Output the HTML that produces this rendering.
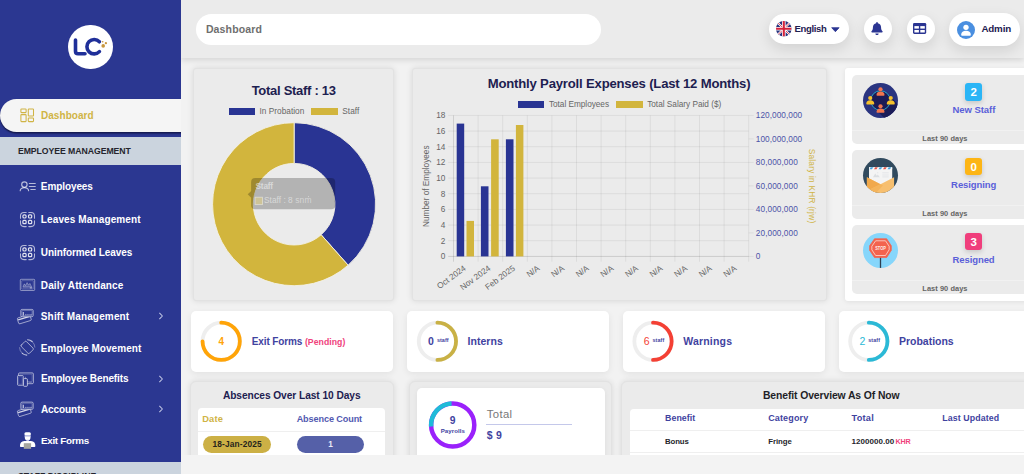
<!DOCTYPE html>
<html>
<head>
<meta charset="utf-8">
<title>Dashboard</title>
<style>
*{box-sizing:border-box;margin:0;padding:0}
html,body{width:1024px;height:474px;overflow:hidden;background:#f2f2f2;font-family:"Liberation Sans",sans-serif;}
.abs{position:absolute}
.tx{position:absolute;white-space:nowrap}
svg{position:absolute;overflow:visible}
#side{position:absolute;left:0;top:0;width:181px;height:474px;background:#2b3791}
.shead{position:absolute;left:0;width:181px;background:#cbd4de}
.pill{position:absolute;background:#fff;box-shadow:0 5px 14px rgba(0,0,0,.11)}
.card{position:absolute;background:#ebebeb;border:1px solid #e2e2e2;border-radius:3px;box-shadow:0 0 6px rgba(0,0,0,.11)}
.wcard{position:absolute;background:#fff;border-radius:5px;box-shadow:0 2px 7px rgba(0,0,0,.07)}
.gcard{position:absolute;background:#ebebeb;border-radius:5px}
</style>
</head>
<body>

<div class="abs" style="left:181px;top:0;width:843px;height:57.5px;background:#ebebeb;box-shadow:0 2px 6px rgba(0,0,0,.13)"></div>
<div class="abs" style="left:196px;top:14px;width:405px;height:31px;border-radius:15.5px;background:#fff"></div>
<div class="tx" style="left:205.88px;top:24.11px;font-size:10.5px;line-height:10.5px;color:#6e6e6e;font-weight:bold;letter-spacing:0.150px;">Dashboard</div>
<div class="pill" style="left:769px;top:14.2px;width:80px;height:30.2px;border-radius:15.1px"></div>
<svg style="left:776px;top:21.3px" width="15.6" height="15.6" viewBox="0 0 60 60">
  <defs><clipPath id="fc"><circle cx="30" cy="30" r="30"/></clipPath></defs>
  <g clip-path="url(#fc)"><rect width="60" height="60" fill="#27337d"/>
  <path d="M0 0 L60 60 M60 0 L0 60" stroke="#fff" stroke-width="8"/><path d="M0 0 L60 60 M60 0 L0 60" stroke="#d4213a" stroke-width="3"/>
  <path d="M30 0 V60 M0 30 H60" stroke="#fff" stroke-width="14"/><path d="M30 0 V60 M0 30 H60" stroke="#d4213a" stroke-width="8"/></g>
</svg>
<div class="tx" style="left:794.52px;top:24.16px;font-size:9.5px;line-height:9.5px;color:#1d2050;font-weight:bold;letter-spacing:-0.325px;">English</div>
<svg style="left:831.3px;top:27.3px" width="9.4" height="6" viewBox="0 0 9.4 6"><path d="M0.7 0.7 H8.100 L4.400 4.700 Z" fill="#2b3592" stroke="#2b3592" stroke-width="0.8" stroke-linejoin="round"/></svg>
<div class="pill" style="left:863.9px;top:15.4px;width:27.8px;height:27.8px;border-radius:50%"></div>
<svg style="left:870.6px;top:21.7px" width="12" height="13" viewBox="0 0 448 512"><path fill="#2b3592" d="M224 512c35.3 0 64-28.7 64-64H160c0 35.3 28.7 64 64 64zm215.400-149.700c-19.300-20.800-55.500-52-55.500-154.300 0-77.700-54.500-139.900-127.900-155.200V32c0-17.700-14.300-32-32-32s-32 14.300-32 32v20.800C118.600 68.100 64.100 130.300 64.100 208c0 102.300-36.200 133.500-55.500 154.300-6 6.400-8.700 14.100-8.600 21.700.1 16.400 13 32 32.100 32h383.800c19.100 0 32-15.600 32.100-32 .1-7.600-2.600-15.300-8.600-21.700z"/></svg>
<div class="pill" style="left:906.8px;top:15.4px;width:27.8px;height:27.8px;border-radius:50%"></div>
<svg style="left:913.3px;top:23.1px" width="13.2" height="10.9" viewBox="0 0 13.2 10.9"><rect x="0" y="0" width="13.2" height="10.9" rx="1.3" fill="#2b3592"/><rect x="1.4" y="3.1" width="4.5" height="2.5" fill="#fff"/><rect x="7.3" y="3.1" width="4.5" height="2.5" fill="#fff"/><rect x="1.4" y="7" width="4.5" height="2.5" fill="#fff"/><rect x="7.3" y="7" width="4.5" height="2.5" fill="#fff"/></svg>
<div class="pill" style="left:949px;top:12.9px;width:71.4px;height:33.5px;border-radius:16.75px"></div>
<svg style="left:957.2px;top:20.6px" width="18" height="18" viewBox="0 0 36 36"><circle cx="18" cy="18" r="18" fill="#4a8fe0"/><circle cx="18" cy="12.6" r="5.3" fill="#fff"/><path d="M8.300 27.500 C8.300 22 12.500 19.600 18 19.600 S27.700 22 27.700 27.500 C27.700 29 26.700 29.600 25.500 29.600 H10.500 C9.300 29.600 8.300 29 8.300 27.500Z" fill="#fff"/></svg>
<div class="tx" style="left:981.41px;top:24.00px;font-size:9.8px;line-height:9.8px;color:#1d2050;font-weight:bold;letter-spacing:-0.175px;">Admin</div>

<div class="card" style="left:192.6px;top:67.5px;width:201px;height:233px"></div>
<div class="tx" style="left:251.68px;top:84.30px;font-size:13px;line-height:13px;color:#1d2050;font-weight:bold;letter-spacing:-0.285px;">Total Staff : 13</div>
<div class="abs" style="left:228.7px;top:107.8px;width:26.7px;height:7.4px;background:#293493"></div>
<div class="tx" style="left:259.47px;top:108.32px;font-size:8.25px;line-height:8.25px;color:#666;font-weight:normal;letter-spacing:0.033px;">In Probation</div>
<div class="abs" style="left:311.3px;top:107.8px;width:26.7px;height:7.4px;background:#d2b53d"></div>
<div class="tx" style="left:342.27px;top:108.32px;font-size:8.25px;line-height:8.25px;color:#666;font-weight:normal;letter-spacing:0.058px;">Staff</div>
<svg style="left:0;top:0" width="1024" height="474" viewBox="0 0 1024 474">
<path d="M294.10 122.70 A81.5 81.5 0 0 1 348.14 265.20 L321.16 234.74 A40.8 40.8 0 0 0 294.10 163.40Z" fill="#293493" stroke="#f3f0e4" stroke-width="0.9" stroke-linejoin="round"/><path d="M348.14 265.20 A81.5 81.5 0 1 1 294.10 122.70 L294.10 163.40 A40.8 40.8 0 1 0 321.16 234.74Z" fill="#d2b53d" stroke="#f3f0e4" stroke-width="0.9" stroke-linejoin="round"/>
<g>
<path d="M247.7 194.3 L251.2 190.9 V197.7Z" fill="rgba(0,0,0,0.24)"/>
<rect x="251.1" y="178" width="84.1" height="31.2" rx="4" fill="rgba(0,0,0,0.24)"/>
<rect x="255.1" y="197.2" width="7.4" height="7.4" fill="rgba(226,208,130,0.55)" stroke="rgba(255,255,255,0.45)" stroke-width="0.9"/>
<circle cx="308.500" cy="196.600" r="0.550" fill="rgba(255,255,255,0.45)"/>
</g>
</svg>
<div class="tx" style="left:255.57px;top:183.12px;font-size:8.25px;line-height:8.25px;color:rgba(255,255,255,0.5);font-weight:bold;letter-spacing:-0.196px;">Staff</div>
<div class="tx" style="left:264.07px;top:197.32px;font-size:8.25px;line-height:8.25px;color:rgba(255,255,255,0.5);font-weight:normal;letter-spacing:0.045px;">Staff : 8</div>
<div class="tx" style="left:295.26px;top:196.40px;font-size:8.5px;line-height:8.5px;color:rgba(255,255,255,0.46);font-weight:normal;letter-spacing:0.109px;">snm</div>

<div class="card" style="left:411.5px;top:67.5px;width:415.5px;height:233px"></div>
<div class="tx" style="left:487.68px;top:77.31px;font-size:13.1px;line-height:13.1px;color:#1d2050;font-weight:bold;letter-spacing:-0.177px;">Monthly Payroll Expenses (Last 12 Months)</div>
<div class="abs" style="left:517.6px;top:100.8px;width:26.7px;height:7.2px;background:#293493"></div>
<div class="tx" style="left:548.97px;top:101.32px;font-size:8.25px;line-height:8.25px;color:#666;font-weight:normal;letter-spacing:-0.034px;">Total Employees</div>
<div class="abs" style="left:616px;top:100.8px;width:26.7px;height:7.2px;background:#d2b53d"></div>
<div class="tx" style="left:647.17px;top:101.32px;font-size:8.25px;line-height:8.25px;color:#666;font-weight:normal;letter-spacing:-0.007px;">Total Salary Paid ($)</div>
<svg style="left:0;top:0" width="1024" height="474" viewBox="0 0 1024 474" font-family="Liberation Sans, sans-serif">
<path d="M448.20 256.40 H748.70" stroke="rgba(0,0,0,0.2)" stroke-width="0.7"/><path d="M448.20 240.73 H748.70" stroke="rgba(0,0,0,0.095)" stroke-width="0.7"/><path d="M448.20 225.07 H748.70" stroke="rgba(0,0,0,0.095)" stroke-width="0.7"/><path d="M448.20 209.40 H748.70" stroke="rgba(0,0,0,0.095)" stroke-width="0.7"/><path d="M448.20 193.73 H748.70" stroke="rgba(0,0,0,0.095)" stroke-width="0.7"/><path d="M448.20 178.07 H748.70" stroke="rgba(0,0,0,0.095)" stroke-width="0.7"/><path d="M448.20 162.40 H748.70" stroke="rgba(0,0,0,0.095)" stroke-width="0.7"/><path d="M448.20 146.73 H748.70" stroke="rgba(0,0,0,0.095)" stroke-width="0.7"/><path d="M448.20 131.07 H748.70" stroke="rgba(0,0,0,0.095)" stroke-width="0.7"/><path d="M448.20 115.40 H748.70" stroke="rgba(0,0,0,0.095)" stroke-width="0.7"/><path d="M748.70 256.40 h5" stroke="rgba(0,0,0,0.095)" stroke-width="0.7"/><path d="M748.70 232.90 h5" stroke="rgba(0,0,0,0.095)" stroke-width="0.7"/><path d="M748.70 209.40 h5" stroke="rgba(0,0,0,0.095)" stroke-width="0.7"/><path d="M748.70 185.90 h5" stroke="rgba(0,0,0,0.095)" stroke-width="0.7"/><path d="M748.70 162.40 h5" stroke="rgba(0,0,0,0.095)" stroke-width="0.7"/><path d="M748.70 138.90 h5" stroke="rgba(0,0,0,0.095)" stroke-width="0.7"/><path d="M748.70 115.40 h5" stroke="rgba(0,0,0,0.095)" stroke-width="0.7"/><path d="M453.50 115.40 V261.70" stroke="rgba(0,0,0,0.17)" stroke-width="0.7"/><path d="M478.10 115.40 V261.70" stroke="rgba(0,0,0,0.095)" stroke-width="0.7"/><path d="M502.70 115.40 V261.70" stroke="rgba(0,0,0,0.095)" stroke-width="0.7"/><path d="M527.30 115.40 V261.70" stroke="rgba(0,0,0,0.095)" stroke-width="0.7"/><path d="M551.90 115.40 V261.70" stroke="rgba(0,0,0,0.095)" stroke-width="0.7"/><path d="M576.50 115.40 V261.70" stroke="rgba(0,0,0,0.095)" stroke-width="0.7"/><path d="M601.10 115.40 V261.70" stroke="rgba(0,0,0,0.095)" stroke-width="0.7"/><path d="M625.70 115.40 V261.70" stroke="rgba(0,0,0,0.095)" stroke-width="0.7"/><path d="M650.30 115.40 V261.70" stroke="rgba(0,0,0,0.095)" stroke-width="0.7"/><path d="M674.90 115.40 V261.70" stroke="rgba(0,0,0,0.095)" stroke-width="0.7"/><path d="M699.50 115.40 V261.70" stroke="rgba(0,0,0,0.095)" stroke-width="0.7"/><path d="M724.10 115.40 V261.70" stroke="rgba(0,0,0,0.095)" stroke-width="0.7"/><path d="M748.70 115.40 V261.70" stroke="rgba(0,0,0,0.095)" stroke-width="0.7"/><rect x="456.7" y="123.6" width="7.50" height="132.80" fill="#293493"/><rect x="466.5" y="220.9" width="7.50" height="35.50" fill="#d2b53d"/><rect x="480.9" y="186.3" width="7.60" height="70.10" fill="#293493"/><rect x="491.1" y="139.3" width="7.60" height="117.10" fill="#d2b53d"/><rect x="505.9" y="139.3" width="7.60" height="117.10" fill="#293493"/><rect x="515.9" y="125" width="7.50" height="131.40" fill="#d2b53d"/><text x="0" y="0" transform="translate(466.50 269.4) rotate(-36.5)" text-anchor="end" font-size="8.25" fill="#666">Oct 2024</text><text x="0" y="0" transform="translate(491.10 269.4) rotate(-36.5)" text-anchor="end" font-size="8.25" fill="#666">Nov 2024</text><text x="0" y="0" transform="translate(515.70 269.4) rotate(-36.5)" text-anchor="end" font-size="8.25" fill="#666">Feb 2025</text><text x="0" y="0" transform="translate(540.30 269.4) rotate(-36.5)" text-anchor="end" font-size="8.25" fill="#666">N/A</text><text x="0" y="0" transform="translate(564.90 269.4) rotate(-36.5)" text-anchor="end" font-size="8.25" fill="#666">N/A</text><text x="0" y="0" transform="translate(589.50 269.4) rotate(-36.5)" text-anchor="end" font-size="8.25" fill="#666">N/A</text><text x="0" y="0" transform="translate(614.10 269.4) rotate(-36.5)" text-anchor="end" font-size="8.25" fill="#666">N/A</text><text x="0" y="0" transform="translate(638.70 269.4) rotate(-36.5)" text-anchor="end" font-size="8.25" fill="#666">N/A</text><text x="0" y="0" transform="translate(663.30 269.4) rotate(-36.5)" text-anchor="end" font-size="8.25" fill="#666">N/A</text><text x="0" y="0" transform="translate(687.90 269.4) rotate(-36.5)" text-anchor="end" font-size="8.25" fill="#666">N/A</text><text x="0" y="0" transform="translate(712.50 269.4) rotate(-36.5)" text-anchor="end" font-size="8.25" fill="#666">N/A</text><text x="0" y="0" transform="translate(737.10 269.4) rotate(-36.5)" text-anchor="end" font-size="8.25" fill="#666">N/A</text>
<text transform="translate(428.6 186.2) rotate(-90)" text-anchor="middle" font-size="8.25" fill="#666" textLength="81.5">Number of Employees</text>
<text transform="translate(808.6 185.9) rotate(90)" text-anchor="middle" font-size="8.25" fill="#d0b445" textLength="74.5">Salary in KHR (rjw)</text>
</svg>
<div class="tx" style="left:145.40px;width:300px;text-align:right;top:253.32px;font-size:8.25px;line-height:8.25px;color:#666;font-weight:normal;letter-spacing:0.000px;">0</div><div class="tx" style="left:145.40px;width:300px;text-align:right;top:237.65px;font-size:8.25px;line-height:8.25px;color:#666;font-weight:normal;letter-spacing:0.000px;">2</div><div class="tx" style="left:145.40px;width:300px;text-align:right;top:221.98px;font-size:8.25px;line-height:8.25px;color:#666;font-weight:normal;letter-spacing:0.000px;">4</div><div class="tx" style="left:145.40px;width:300px;text-align:right;top:206.32px;font-size:8.25px;line-height:8.25px;color:#666;font-weight:normal;letter-spacing:0.000px;">6</div><div class="tx" style="left:145.40px;width:300px;text-align:right;top:190.65px;font-size:8.25px;line-height:8.25px;color:#666;font-weight:normal;letter-spacing:0.000px;">8</div><div class="tx" style="left:145.40px;width:300px;text-align:right;top:174.98px;font-size:8.25px;line-height:8.25px;color:#666;font-weight:normal;letter-spacing:0.000px;">10</div><div class="tx" style="left:145.40px;width:300px;text-align:right;top:159.32px;font-size:8.25px;line-height:8.25px;color:#666;font-weight:normal;letter-spacing:0.000px;">12</div><div class="tx" style="left:145.40px;width:300px;text-align:right;top:143.65px;font-size:8.25px;line-height:8.25px;color:#666;font-weight:normal;letter-spacing:0.000px;">14</div><div class="tx" style="left:145.40px;width:300px;text-align:right;top:127.98px;font-size:8.25px;line-height:8.25px;color:#666;font-weight:normal;letter-spacing:0.000px;">16</div><div class="tx" style="left:145.40px;width:300px;text-align:right;top:112.32px;font-size:8.25px;line-height:8.25px;color:#666;font-weight:normal;letter-spacing:0.000px;">18</div><div class="tx" style="left:755.87px;top:253.32px;font-size:8.25px;line-height:8.25px;color:#4c53a8;font-weight:normal;letter-spacing:0.366px;">0</div><div class="tx" style="left:755.87px;top:229.82px;font-size:8.25px;line-height:8.25px;color:#4c53a8;font-weight:normal;letter-spacing:0.063px;">20,000,000</div><div class="tx" style="left:755.87px;top:206.32px;font-size:8.25px;line-height:8.25px;color:#4c53a8;font-weight:normal;letter-spacing:0.063px;">40,000,000</div><div class="tx" style="left:755.87px;top:182.82px;font-size:8.25px;line-height:8.25px;color:#4c53a8;font-weight:normal;letter-spacing:0.063px;">60,000,000</div><div class="tx" style="left:755.87px;top:159.32px;font-size:8.25px;line-height:8.25px;color:#4c53a8;font-weight:normal;letter-spacing:0.063px;">80,000,000</div><div class="tx" style="left:755.87px;top:135.82px;font-size:8.25px;line-height:8.25px;color:#4c53a8;font-weight:normal;letter-spacing:0.037px;">100,000,000</div><div class="tx" style="left:755.87px;top:112.32px;font-size:8.25px;line-height:8.25px;color:#4c53a8;font-weight:normal;letter-spacing:0.037px;">120,000,000</div>

<div class="abs" style="left:845px;top:68px;width:200px;height:232.7px;background:#fff;border-radius:3px;box-shadow:0 1px 5px rgba(0,0,0,.08)"></div>

<div class="gcard" style="left:852px;top:74.9px;width:185px;height:69.6px"></div>
<div class="abs" style="left:852px;top:130.2px;width:185px;height:1px;background:#f1f1f1"></div>
<svg style="left:863.0px;top:83.0px" width="35" height="35" viewBox="0 0 70 70"><circle cx="35" cy="35" r="35" fill="#2a3480"/>
<clipPath id="tc"><circle cx="35" cy="35" r="35"/></clipPath><path d="M48.800 21.200 L95 67.400 L67.400 95 L21.200 48.800Z" fill="#1b1c58" clip-path="url(#tc)"/>
<circle cx="35" cy="35" r="19.500" fill="#1b1b55" stroke="#27b3d6" stroke-width="1.800"/>
<g fill="#f0764f"><circle cx="35" cy="12.500" r="4.200"/><path d="M27 24 q0 -7 8 -7 q8 0 8 7 q0 1.500 -1.500 1.500 h-13 q-1.500 0 -1.500 -1.500z"/>
<circle cx="35" cy="46.500" r="4.200"/><path d="M27 58 q0 -7 8 -7 q8 0 8 7 q0 1.500 -1.500 1.500 h-13 q-1.500 0 -1.500 -1.500z"/></g>
<g fill="#f6c12c"><circle cx="14.500" cy="30" r="4.200"/><path d="M6.500 41.500 q0 -7 8 -7 q8 0 8 7 q0 1.500 -1.500 1.500 h-13 q-1.500 0 -1.500 -1.500z"/>
<circle cx="55.500" cy="30" r="4.200"/><path d="M47.500 41.500 q0 -7 8 -7 q8 0 8 7 q0 1.500 -1.500 1.500 h-13 q-1.500 0 -1.500 -1.500z"/></g></svg>
<div class="abs" style="left:965px;top:83.30000000000001px;width:17.3px;height:17.3px;border-radius:3px;background:#2ab5f6;box-shadow:0 2px 5px rgba(0,0,0,.16)"></div>
<div class="tx" style="left:823.70px;width:300px;text-align:center;top:87.47px;font-size:11.5px;line-height:11.5px;color:#fff;font-weight:bold;letter-spacing:0.000px;">2</div>
<div class="tx" style="left:952.52px;top:105.06px;font-size:9.5px;line-height:9.5px;color:#5a5fd9;font-weight:bold;letter-spacing:-0.055px;">New Staff</div>
<div class="tx" style="left:922.30px;top:134.64px;font-size:7.4px;line-height:7.4px;color:#646464;font-weight:bold;letter-spacing:0.074px;">Last 90 days</div>


<div class="gcard" style="left:852px;top:149.7px;width:185px;height:69.6px"></div>
<div class="abs" style="left:852px;top:205.0px;width:185px;height:1px;background:#f1f1f1"></div>
<svg style="left:863.0px;top:157.79999999999998px" width="35" height="35" viewBox="0 0 70 70"><clipPath id="mc"><circle cx="35" cy="35" r="35"/></clipPath><circle cx="35" cy="35" r="35" fill="#314a5e"/>
<g clip-path="url(#mc)">
<rect x="12" y="18.600" width="46.400" height="40" fill="#f4f4f4"/>
<path d="M12 18.600 h46.400 v4 h-46.400z" fill="#fbfbfb"/>
<path d="M13 22.600 l2.500 -4 h5 l-2.500 4z M31 22.600 l2.500 -4 h5 l-2.500 4z M49 22.600 l2.500 -4 h5 l-2.500 4z" fill="#46a6e0"/>
<path d="M22 22.600 l2.500 -4 h5 l-2.500 4z M40 22.600 l2.500 -4 h5 l-2.500 4z" fill="#e4584c"/>
<path d="M20 38.500 l4.500 -7.500 l3 4.500 l2 -2.500 l4 5.500z" fill="#dcdfe2"/><circle cx="29.500" cy="29.500" r="1.100" fill="#dcdfe2"/>
<path d="M38.500 29.700 h13 M38.500 34 h13 M38.500 37.800 h13" stroke="#dfe2e5" stroke-width="1.500"/>
<path d="M7.800 38.600 L35 52.300 L62.200 38.600 V80 H7.800Z" fill="#f7bf6f"/>
<path d="M7.800 38.600 L35 52.300 L7.800 66Z" fill="#f1a94c"/>
<path d="M7.800 66 L35 52.300 L40 55 L16 80 H7.800Z" fill="#f4b45b"/>
</g></svg>
<div class="abs" style="left:965px;top:158.1px;width:17.3px;height:17.3px;border-radius:3px;background:#fdb515;box-shadow:0 2px 5px rgba(0,0,0,.16)"></div>
<div class="tx" style="left:823.70px;width:300px;text-align:center;top:162.27px;font-size:11.5px;line-height:11.5px;color:#fff;font-weight:bold;letter-spacing:0.000px;">0</div>
<div class="tx" style="left:951.12px;top:179.86px;font-size:9.5px;line-height:9.5px;color:#5a5fd9;font-weight:bold;letter-spacing:-0.083px;">Resigning</div>
<div class="tx" style="left:922.30px;top:210.44px;font-size:7.4px;line-height:7.4px;color:#646464;font-weight:bold;letter-spacing:0.074px;">Last 90 days</div>


<div class="gcard" style="left:852px;top:224.6px;width:185px;height:69.6px"></div>
<div class="abs" style="left:852px;top:279.9px;width:185px;height:1px;background:#f1f1f1"></div>
<svg style="left:863.0px;top:232.7px" width="35" height="35" viewBox="0 0 70 70"><circle cx="35" cy="35" r="35" fill="#86d6fb"/>
<rect x="33.700" y="48" width="2.600" height="21.800" fill="#2c3e50"/>
<path d="M23 11.500 H47.300 L56.600 25.500 V34.700 L47.300 49.100 H23 L13.300 34.700 V25.500Z" fill="#f3634e" stroke="#f3634e" stroke-width="1.500" stroke-linejoin="round"/>
<path d="M25.300 15.600 H45 L52.300 26.600 V33.600 L45 45 H25.300 L17.700 33.600 V26.600Z" fill="none" stroke="#fde3dc" stroke-width="1.500" stroke-linejoin="round"/>
<text x="35.200" y="33.800" text-anchor="middle" font-family="Liberation Sans, sans-serif" font-weight="bold" font-size="9.600" fill="#fdeee9" textLength="21.500" lengthAdjust="spacingAndGlyphs">STOP</text></svg>
<div class="abs" style="left:965px;top:233.0px;width:17.3px;height:17.3px;border-radius:3px;background:#f03e7c;box-shadow:0 2px 5px rgba(0,0,0,.16)"></div>
<div class="tx" style="left:823.70px;width:300px;text-align:center;top:237.17px;font-size:11.5px;line-height:11.5px;color:#fff;font-weight:bold;letter-spacing:0.000px;">3</div>
<div class="tx" style="left:952.52px;top:254.76px;font-size:9.5px;line-height:9.5px;color:#5a5fd9;font-weight:bold;letter-spacing:-0.087px;">Resigned</div>
<div class="tx" style="left:922.30px;top:285.34px;font-size:7.4px;line-height:7.4px;color:#646464;font-weight:bold;letter-spacing:0.074px;">Last 90 days</div>


<div class="wcard" style="left:191px;top:311.2px;width:202.3px;height:60.8px"></div>
<svg style="left:0;top:0" width="1024" height="474" viewBox="0 0 1024 474"><circle cx="221.2" cy="341.3" r="18.65" fill="none" stroke="#eeeeee" stroke-width="3.8"/><path d="M221.20 322.65 A18.65 18.65 0 1 1 202.55 341.30" fill="none" stroke="#ffa408" stroke-width="3.8" stroke-linecap="round"/></svg><div class="tx" style="left:71.20px;width:300px;text-align:center;top:336.54px;font-size:10px;line-height:10px;color:#ffa408;font-weight:bold;letter-spacing:0.000px;">4</div>
<div class="tx" style="left:251.80px;top:336.64px;font-size:10px;line-height:10px;color:#3f439f;font-weight:bold;letter-spacing:-0.121px;">Exit Forms</div>
<div class="tx" style="left:304.95px;top:337.74px;font-size:8.7px;line-height:8.7px;color:#f0437c;font-weight:bold;letter-spacing:0.042px;">(Pending)</div>
<div class="wcard" style="left:407.2px;top:311.2px;width:201.7px;height:60.8px"></div>
<svg style="left:0;top:0" width="1024" height="474" viewBox="0 0 1024 474"><circle cx="437.4" cy="341.3" r="18.65" fill="none" stroke="#eeeeee" stroke-width="3.8"/><path d="M437.40 322.65 A18.65 18.65 0 0 1 437.40 359.95" fill="none" stroke="#c9b145" stroke-width="3.8" stroke-linecap="round"/></svg><div class="tx" style="left:428.08px;top:336.21px;font-size:10.5px;line-height:10.5px;color:#3f439f;font-weight:bold;letter-spacing:1.296px;">0</div><div class="tx" style="left:436.88px;top:337.63px;font-size:5.4px;line-height:5.4px;color:#3f439f;font-weight:bold;letter-spacing:0.085px;">staff</div>
<div class="tx" style="left:467.48px;top:336.21px;font-size:10.5px;line-height:10.5px;color:#3f439f;font-weight:bold;letter-spacing:0.054px;">Interns</div>
<div class="wcard" style="left:622.9px;top:311.2px;width:202px;height:60.8px"></div>
<svg style="left:0;top:0" width="1024" height="474" viewBox="0 0 1024 474"><circle cx="653" cy="341.3" r="18.65" fill="none" stroke="#eeeeee" stroke-width="3.8"/><path d="M653.00 322.65 A18.65 18.65 0 0 1 653.00 359.95" fill="none" stroke="#f44034" stroke-width="3.8" stroke-linecap="round"/></svg><div class="tx" style="left:643.68px;top:336.21px;font-size:10.5px;line-height:10.5px;color:#f44034;font-weight:normal;letter-spacing:1.296px;">6</div><div class="tx" style="left:652.48px;top:337.63px;font-size:5.4px;line-height:5.4px;color:#3f439f;font-weight:bold;letter-spacing:0.085px;">staff</div>
<div class="tx" style="left:683.18px;top:336.21px;font-size:10.5px;line-height:10.5px;color:#3f439f;font-weight:bold;letter-spacing:0.198px;">Warnings</div>
<div class="wcard" style="left:838.8px;top:311.2px;width:202px;height:60.8px"></div>
<svg style="left:0;top:0" width="1024" height="474" viewBox="0 0 1024 474"><circle cx="868.8" cy="341.3" r="18.65" fill="none" stroke="#eeeeee" stroke-width="3.8"/><path d="M868.80 322.65 A18.65 18.65 0 0 1 868.80 359.95" fill="none" stroke="#2bb9d6" stroke-width="3.8" stroke-linecap="round"/></svg><div class="tx" style="left:859.48px;top:336.21px;font-size:10.5px;line-height:10.5px;color:#2bb9d6;font-weight:normal;letter-spacing:1.296px;">2</div><div class="tx" style="left:868.28px;top:337.63px;font-size:5.4px;line-height:5.4px;color:#3f439f;font-weight:bold;letter-spacing:0.085px;">staff</div>
<div class="tx" style="left:898.88px;top:336.21px;font-size:10.5px;line-height:10.5px;color:#3f439f;font-weight:bold;letter-spacing:-0.000px;">Probations</div>

<div class="card" style="left:189.9px;top:381px;width:204px;height:100px;border-radius:6px"></div>
<div class="tx" style="left:222.89px;top:390.77px;font-size:10.2px;line-height:10.2px;color:#1d2050;font-weight:bold;letter-spacing:-0.064px;">Absences Over Last 10 Days</div>
<div class="abs" style="left:198px;top:408.4px;width:187.4px;height:70px;background:#fff;border-radius:4px"></div>
<div class="tx" style="left:202.23px;top:414.53px;font-size:9.3px;line-height:9.3px;color:#d0b445;font-weight:bold;letter-spacing:0.163px;">Date</div>
<div class="tx" style="left:296.64px;top:414.70px;font-size:9.1px;line-height:9.1px;color:#5158b0;font-weight:bold;letter-spacing:-0.098px;">Absence Count</div>
<div class="abs" style="left:198px;top:430.6px;width:187.4px;height:1px;background:#efefef"></div>
<div class="abs" style="left:203px;top:436.2px;width:68px;height:16.7px;border-radius:8.4px;background:#ccb045"></div>
<div class="tx" style="left:212.47px;top:440.27px;font-size:8.3px;line-height:8.3px;color:#25231c;font-weight:bold;letter-spacing:0.165px;">18-Jan-2025</div>
<div class="abs" style="left:296.9px;top:436.2px;width:67.6px;height:16.7px;border-radius:8.4px;background:#5560a8"></div>
<div class="tx" style="left:180.60px;width:300px;text-align:center;top:440.27px;font-size:8.3px;line-height:8.3px;color:#e9ebf7;font-weight:bold;letter-spacing:0.000px;">1</div>

<div class="card" style="left:409.4px;top:381px;width:203px;height:100px;border-radius:6px"></div>
<div class="abs" style="left:416.8px;top:387.7px;width:188.7px;height:90px;background:#fff;border-radius:5px;box-shadow:0 1px 5px rgba(0,0,0,.06)"></div>
<svg style="left:0;top:0" width="1024" height="474" viewBox="0 0 1024 474">
<circle cx="452.7" cy="425" r="21.6" fill="none" stroke="#9a21fb" stroke-width="4.5"/>
<path d="M431.15 426.51 A21.6 21.6 0 0 1 451.57 403.43" fill="none" stroke="#1fbbd8" stroke-width="4.5"/>
</svg>
<div class="tx" style="left:302.70px;width:300px;text-align:center;top:416.28px;font-size:10.3px;line-height:10.3px;color:#3f439f;font-weight:bold;letter-spacing:0.000px;">9</div>
<div class="tx" style="left:440.76px;top:428.24px;font-size:6.1px;line-height:6.1px;color:#3f439f;font-weight:bold;letter-spacing:0.053px;">Payrolls</div>
<div class="tx" style="left:486.75px;top:409.43px;font-size:11.3px;line-height:11.3px;color:#777;font-weight:normal;letter-spacing:0.357px;">Total</div>
<div class="abs" style="left:486.3px;top:424.1px;width:85.5px;height:1px;background:#c4c8ea"></div>
<div class="tx" style="left:486.78px;top:430.31px;font-size:10.5px;line-height:10.5px;color:#3f439f;font-weight:bold;letter-spacing:0.265px;">$ 9</div>

<div class="card" style="left:621.4px;top:381px;width:420px;height:100px;border-radius:6px"></div>
<div class="tx" style="left:762.88px;top:390.50px;font-size:10.4px;line-height:10.4px;color:#1f1f28;font-weight:bold;letter-spacing:-0.101px;">Benefit Overview As Of Now</div>
<div class="abs" style="left:630.2px;top:408.6px;width:420px;height:70px;background:#fff;border-radius:4px"></div>
<div class="tx" style="left:665.05px;top:413.95px;font-size:8.8px;line-height:8.8px;color:#3f439f;font-weight:bold;letter-spacing:0.063px;">Benefit</div>
<div class="tx" style="left:768.14px;top:413.78px;font-size:9px;line-height:9px;color:#3f439f;font-weight:bold;letter-spacing:0.158px;">Category</div>
<div class="tx" style="left:851.53px;top:413.61px;font-size:9.2px;line-height:9.2px;color:#3f439f;font-weight:bold;letter-spacing:0.243px;">Total</div>
<div class="tx" style="left:942.25px;top:413.95px;font-size:8.8px;line-height:8.8px;color:#3f439f;font-weight:bold;letter-spacing:0.106px;">Last Updated</div>
<div class="abs" style="left:630.2px;top:430.3px;width:420px;height:1px;background:#efefef"></div>
<div class="tx" style="left:665.09px;top:438.40px;font-size:7.8px;line-height:7.8px;color:#25252b;font-weight:bold;letter-spacing:-0.135px;">Bonus</div>
<div class="tx" style="left:768.19px;top:438.40px;font-size:7.8px;line-height:7.8px;color:#25252b;font-weight:bold;letter-spacing:-0.041px;">Fringe</div>
<div class="tx" style="left:851.58px;top:438.23px;font-size:8px;line-height:8px;color:#25252b;font-weight:bold;letter-spacing:0.030px;">1200000.00</div>
<div class="tx" style="left:895.61px;top:437.61px;font-size:7.2px;line-height:7.2px;color:#f0437c;font-weight:bold;letter-spacing:-0.201px;">KHR</div>
<div class="abs" style="left:630.2px;top:452px;width:420px;height:1px;background:#efefef"></div>
<div class="abs" style="left:181px;top:454.7px;width:843px;height:20px;background:#f3f3f3"></div>

<div id="side"></div>
<div class="abs" style="left:68.4px;top:24.5px;width:44.5px;height:44.5px;border-radius:50%;background:#fff"></div>
<svg style="left:68px;top:24px" width="46" height="46" viewBox="68 24 46 46">
  <path d="M75.5 40 V51.200 Q75.500 53.700 78 53.700 H85" fill="none" stroke="#1f2f99" stroke-width="3.6" stroke-linecap="round" stroke-linejoin="round"/>
  <path d="M99.4 41.8 A7.2 7.2 0 1 0 99.4 51.6" fill="none" stroke="#1f2f99" stroke-width="3.6" stroke-linecap="round"/>
  <circle cx="103.2" cy="45.9" r="1.8" fill="#c8963e"/><circle cx="102.7" cy="41.7" r="0.8" fill="#c8963e"/><circle cx="105.9" cy="43.2" r="1.15" fill="#c8963e"/>
</svg>
<div class="abs" style="left:0;top:90px;width:181px;height:50px;overflow:hidden"><div class="abs" style="left:0;top:9px;width:190px;height:33px;border-radius:16.5px 0 0 16.5px;background:#f5f5f5;box-shadow:0 1.5px 1.5px rgba(5,5,30,.6)"></div></div>
<svg style="left:20px;top:108px" width="15" height="15" viewBox="20 108 15 15" fill="none" stroke="#d0b445" stroke-width="1.05">
  <rect x="20.9" y="109" width="5.2" height="3.6" rx="0.6"/><rect x="20.9" y="114.6" width="5.2" height="7" rx="0.6"/>
  <rect x="28.3" y="109" width="5.2" height="7" rx="0.6"/><rect x="28.3" y="118" width="5.2" height="3.6" rx="0.6"/>
</svg>
<div class="tx" style="left:40.90px;top:111.23px;font-size:10px;line-height:10px;color:#d0b445;font-weight:bold;letter-spacing:0.071px;">Dashboard</div>
<div class="shead" style="top:136.7px;height:28px"></div>
<div class="tx" style="left:17.95px;top:147.14px;font-size:8.7px;line-height:8.7px;color:#25252d;font-weight:bold;letter-spacing:-0.057px;">EMPLOYEE MANAGEMENT</div>
<div class="tx" style="left:40.80px;top:181.53px;font-size:10px;line-height:10px;color:#fff;font-weight:bold;letter-spacing:-0.089px;">Employees</div>
<div class="tx" style="left:40.80px;top:215.34px;font-size:10px;line-height:10px;color:#fff;font-weight:bold;letter-spacing:0.123px;">Leaves Management</div>
<div class="tx" style="left:40.80px;top:247.84px;font-size:10px;line-height:10px;color:#fff;font-weight:bold;letter-spacing:-0.088px;">Uninformed Leaves</div>
<div class="tx" style="left:40.80px;top:281.14px;font-size:10px;line-height:10px;color:#fff;font-weight:bold;letter-spacing:0.116px;">Daily Attendance</div>
<div class="tx" style="left:40.80px;top:312.14px;font-size:10px;line-height:10px;color:#fff;font-weight:bold;letter-spacing:0.152px;">Shift Management</div>
<div class="tx" style="left:40.80px;top:344.04px;font-size:10px;line-height:10px;color:#fff;font-weight:bold;letter-spacing:0.063px;">Employee Movement</div>
<div class="tx" style="left:40.90px;top:373.94px;font-size:10px;line-height:10px;color:#fff;font-weight:bold;letter-spacing:-0.118px;">Employee Benefits</div>
<div class="tx" style="left:40.90px;top:404.84px;font-size:10px;line-height:10px;color:#fff;font-weight:bold;letter-spacing:-0.066px;">Accounts</div>
<div class="tx" style="left:40.91px;top:435.66px;font-size:9.85px;line-height:9.85px;color:#fff;font-weight:bold;letter-spacing:-0.276px;">Exit Forms</div>
<svg style="left:158px;top:312.2px" width="6" height="8" viewBox="0 0 6 8"><path d="M1.6 1.2 L4.4 4 L1.6 6.8" fill="none" stroke="#c3c8e6" stroke-width="1.05" stroke-linecap="round" stroke-linejoin="round"/></svg><svg style="left:158px;top:374.9px" width="6" height="8" viewBox="0 0 6 8"><path d="M1.6 1.2 L4.4 4 L1.6 6.8" fill="none" stroke="#c3c8e6" stroke-width="1.05" stroke-linecap="round" stroke-linejoin="round"/></svg><svg style="left:158px;top:405.2px" width="6" height="8" viewBox="0 0 6 8"><path d="M1.6 1.2 L4.4 4 L1.6 6.8" fill="none" stroke="#c3c8e6" stroke-width="1.05" stroke-linecap="round" stroke-linejoin="round"/></svg>
<div class="shead" style="top:462.2px;height:13px"></div>
<div class="tx" style="left:17.95px;top:471.94px;font-size:8.7px;line-height:8.7px;color:#25252d;font-weight:bold;letter-spacing:-0.008px;">STAFF DISCIPLINE</div>

<svg style="left:0;top:0" width="181" height="474" viewBox="0 0 181 474" fill="none" stroke="rgba(255,255,255,0.8)" stroke-width="0.95" stroke-linecap="round">
<g stroke="rgba(255,255,255,0.68)" stroke-width="1.15"><circle cx="24.400" cy="184.600" r="2.700"/><path d="M20.200 190.700 A4.200 3.100 0 0 1 28.600 190.700"/></g>
<path d="M29.300 183.500 H35.300 M29.300 186.400 H35.300 M30.800 189.400 H35.300" stroke="rgba(255,255,255,0.66)" stroke-width="1.05"/>
</svg>
<svg style="left:0;top:0" width="181" height="474" viewBox="0 0 181 474" fill="none" stroke="rgba(255,255,255,0.66)" stroke-width="1.05" stroke-linecap="round">
<path d="M20.5 218.3 V215.9 Q20.5 212.4 24 212.4 H26.200 M28.800 212.4 H31 Q34.500 212.4 34.500 215.9 V218.3 M34.500 220.7 V223.1 Q34.500 226.6 31 226.6 H28.800 M26.200 226.6 H24 Q20.500 226.6 20.500 223.1 V220.7"/>
<g stroke="rgba(255,255,255,0.86)" stroke-width="1.2"><rect x="22.9" y="214.8" width="3.2" height="3.2" rx="1.3"/><rect x="28.500" y="214.8" width="3.200" height="3.200" rx="0.9"/>
<rect x="22.900" y="220.4" width="3.200" height="3.200" rx="0.9"/><rect x="28.500" y="220.4" width="3.200" height="3.200" rx="0.9"/></g></svg><svg style="left:0;top:0" width="181" height="474" viewBox="0 0 181 474" fill="none" stroke="rgba(255,255,255,0.66)" stroke-width="1.05" stroke-linecap="round">
<path d="M20.5 251.3 V248.9 Q20.5 245.4 24 245.4 H26.200 M28.800 245.4 H31 Q34.500 245.4 34.500 248.9 V251.3 M34.500 253.7 V256.1 Q34.500 259.6 31 259.6 H28.800 M26.200 259.6 H24 Q20.500 259.6 20.500 256.1 V253.7"/>
<g stroke="rgba(255,255,255,0.86)" stroke-width="1.2"><rect x="22.9" y="247.8" width="3.2" height="3.2" rx="1.3"/><rect x="28.500" y="247.8" width="3.200" height="3.200" rx="0.9"/>
<rect x="22.900" y="253.4" width="3.200" height="3.200" rx="0.9"/><rect x="28.500" y="253.4" width="3.200" height="3.200" rx="0.9"/></g></svg>
<svg style="left:0;top:0" width="181" height="474" viewBox="0 0 181 474" fill="none" stroke="rgba(255,255,255,0.55)" stroke-width="0.9" stroke-linejoin="round">
<rect x="20.300" y="279.300" width="14.400" height="11.200" rx="0.900" stroke="rgba(255,255,255,0.5)"/><rect x="21.700" y="280.700" width="11.600" height="8.400" rx="0.400" stroke="rgba(255,255,255,0.3)" stroke-width="0.7"/>
<path d="M23 286.800 L24.300 283.800 L25.500 285.600 L27.100 282.600 L28.600 285.200 L29.900 283.400 L31.600 286.800Z" stroke="rgba(255,255,255,0.45)" stroke-width="0.7" fill="rgba(255,255,255,0.18)"/>
<path d="M22.800 287.900 h6" stroke="rgba(255,255,255,0.35)" stroke-width="0.7"/><path d="M29.600 287.900 h2.600" stroke="rgba(255,255,255,0.75)" stroke-width="1"/>
</svg>
<svg style="left:0;top:0" width="181" height="474" viewBox="0 0 181 474" fill="none" stroke="rgba(255,255,255,0.6)" stroke-width="0.9" stroke-linejoin="round">
<g transform="rotate(-17 24.3 319.2)"><rect x="17.700" y="316.1" width="13.200" height="6.200" rx="1.100" stroke="rgba(255,255,255,0.55)"/><path d="M18.200 318.1 H30.400" stroke="rgba(255,255,255,0.8)" stroke-width="1.300"/></g>
<rect x="20.800" y="309.4" width="12.400" height="7.300" rx="1.300" fill="#2b3791"/>
<rect x="21.900" y="310.5" width="10.200" height="5.100" rx="0.600" stroke="rgba(255,255,255,0.38)" stroke-width="0.7"/>
<path d="M23.300 312.0 v3.400" stroke="rgba(255,255,255,0.75)" stroke-width="1.100"/>
<path d="M25.200 314.7 h1.300 M27.300 314.7 h1.300 M29.400 314.7 h1.300 M31 314.7 h0.700" stroke="rgba(255,255,255,0.6)" stroke-width="0.9"/></svg><svg style="left:0;top:0" width="181" height="474" viewBox="0 0 181 474" fill="none" stroke="rgba(255,255,255,0.6)" stroke-width="0.9" stroke-linejoin="round">
<g transform="rotate(-17 24.3 411.9)"><rect x="17.700" y="408.8" width="13.200" height="6.200" rx="1.100" stroke="rgba(255,255,255,0.55)"/><path d="M18.200 410.8 H30.400" stroke="rgba(255,255,255,0.8)" stroke-width="1.300"/></g>
<rect x="20.800" y="402.1" width="12.400" height="7.300" rx="1.300" fill="#2b3791"/>
<rect x="21.900" y="403.2" width="10.200" height="5.100" rx="0.600" stroke="rgba(255,255,255,0.38)" stroke-width="0.7"/>
<path d="M23.300 404.7 v3.400" stroke="rgba(255,255,255,0.75)" stroke-width="1.100"/>
<path d="M25.200 407.4 h1.300 M27.300 407.4 h1.300 M29.400 407.4 h1.300 M31 407.4 h0.700" stroke="rgba(255,255,255,0.6)" stroke-width="0.9"/></svg>
<svg style="left:0;top:0" width="181" height="474" viewBox="0 0 181 474" fill="none" stroke="rgba(255,255,255,0.7)" stroke-width="0.9" stroke-linecap="round">
<rect x="23.600" y="341.600" width="7.200" height="11.600" rx="1.200" transform="rotate(-45 27.200 347.400)" stroke="rgba(255,255,255,0.6)"/>
<path d="M27.60 339.71 A7.7 7.7 0 0 1 32.15 341.50" stroke="rgba(255,255,255,0.7)" stroke-width="1.100"/><path d="M32.15 341.50 A7.7 7.7 0 0 1 34.90 347.13" stroke="rgba(255,255,255,0.4)"/>
<path d="M26.80 355.09 A7.7 7.7 0 0 1 22.25 353.30" stroke="rgba(255,255,255,0.7)" stroke-width="1.100"/><path d="M22.25 353.30 A7.7 7.7 0 0 1 19.50 347.67" stroke="rgba(255,255,255,0.4)"/>
</svg>
<svg style="left:0;top:0" width="181" height="474" viewBox="0 0 181 474" fill="none" stroke="rgba(255,255,255,0.72)" stroke-width="0.9" stroke-linejoin="round">
<rect x="18.500" y="372.900" width="14.900" height="10.800" rx="1.200" stroke="rgba(255,255,255,0.62)"/><rect x="19.800" y="374.200" width="12.300" height="7.300" rx="0.400" stroke="rgba(255,255,255,0.3)" stroke-width="0.7"/><path d="M28.500 382.600 h3.300" stroke="rgba(255,255,255,0.45)" stroke-width="0.7"/>
<rect x="17.500" y="375.500" width="5.800" height="9.800" rx="0.900" fill="#2b3791" stroke="rgba(255,255,255,0.62)"/><rect x="18.600" y="376.700" width="3.600" height="7.400" stroke="rgba(255,255,255,0.25)" stroke-width="0.6"/>
<rect x="23.400" y="378.600" width="4" height="7.700" rx="0.900" fill="#2b3791" stroke="rgba(255,255,255,0.7)"/><path d="M25.400 376.800 v1.800" stroke="rgba(255,255,255,0.5)" stroke-width="0.7"/>
</svg>
<svg style="left:0;top:0" width="181" height="474" viewBox="0 0 181 474">
<rect x="24.400" y="432.200" width="6.500" height="3.400" rx="1.500" fill="#fff"/>
<rect x="24.600" y="435.300" width="6.100" height="1.500" fill="#c9cdf0"/>
<path d="M24.800 436.600 h5.700 v0.800 a2.850 2.850 0 0 1 -5.700 0z" fill="#fff"/>
<path d="M26.400 439.800 h2.500 l-0.300 2.200 h-1.900z" fill="#c4c8ee"/>
<path d="M20 446.300 v-0.800 C20 442 22.500 440.900 25.300 440.900 h4.700 C32.800 440.900 35.300 442 35.300 445.500 v0.800 q0 0.800 -0.800 0.800 h-13.700 q-0.800 0 -0.800 -0.800z" fill="#fff"/>
<rect x="23.800" y="443.200" width="7.300" height="5.600" fill="#a6a6a0"/>
</svg>


</body>
</html>
